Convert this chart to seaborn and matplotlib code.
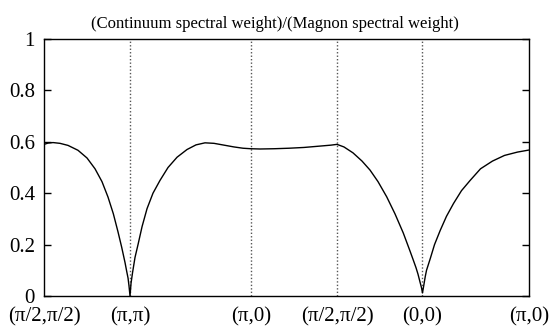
import matplotlib
matplotlib.use("Agg")
import matplotlib.pyplot as plt
import seaborn as sns
import pandas as pd

# Path through the Brillouin zone (distance along the cut, segment (pi/2,pi/2)-(pi,pi) = 1)
tick_pos = [0.0, 1.0, 2.407, 3.407, 4.401, 5.64]
tick_labels = ["(\u03c0/2,\u03c0/2)", "(\u03c0,\u03c0)", "(\u03c0,0)",
               "(\u03c0/2,\u03c0/2)", "(0,0)", "(\u03c0,0)"]

# Ratio of continuum to magnon spectral weight along the path
k_path = [
    # (pi/2,pi/2) -> (pi,pi)
    0.000, 0.047, 0.105, 0.186, 0.279, 0.395, 0.500, 0.593, 0.674, 0.744,
    0.806, 0.860, 0.903, 0.942, 0.962, 0.977, 0.988, 1.000,
    # (pi,pi) -> (pi,0)
    1.012, 1.029, 1.058, 1.093, 1.140, 1.198, 1.267, 1.349, 1.442, 1.547,
    1.663, 1.767, 1.872, 1.977, 2.093, 2.209, 2.314, 2.407,
    # (pi,0) -> (pi/2,pi/2)
    2.512, 2.674, 2.849, 3.023, 3.198, 3.337, 3.407,
    # (pi/2,pi/2) -> (0,0)
    3.488, 3.593, 3.698, 3.791, 3.884, 3.985, 4.081, 4.178, 4.256, 4.294,
    4.326, 4.349, 4.372, 4.390, 4.401,
    # (0,0) -> (pi,0)
    4.413, 4.433, 4.448, 4.491, 4.541, 4.607, 4.680, 4.762, 4.855, 4.956,
    5.076, 5.215, 5.355, 5.506, 5.640,
]
ratio = [
    0.590, 0.595, 0.597, 0.594, 0.586, 0.567, 0.537, 0.495, 0.445, 0.385,
    0.320, 0.250, 0.190, 0.130, 0.095, 0.070, 0.040, 0.000,
    0.050, 0.090, 0.150, 0.200, 0.270, 0.340, 0.400, 0.450, 0.500, 0.540,
    0.570, 0.588, 0.596, 0.594, 0.587, 0.580, 0.575, 0.573,
    0.572, 0.573, 0.575, 0.578, 0.583, 0.587, 0.590,
    0.580, 0.557, 0.525, 0.490, 0.445, 0.386, 0.320, 0.245, 0.175, 0.140,
    0.110, 0.085, 0.055, 0.032, 0.012,
    0.035, 0.075, 0.100, 0.145, 0.200, 0.255, 0.310, 0.360, 0.410, 0.450,
    0.495, 0.525, 0.547, 0.560, 0.568,
]

y_ticks = [0, 0.2, 0.4, 0.6, 0.8, 1]
y_tick_labels = ["0", "0.2", "0.4", "0.6", "0.8", "1"]
title = "(Continuum spectral weight)/(Magnon spectral weight)"

sns.set_theme(style="white")
plt.rcParams["font.family"] = ["Liberation Serif", "DejaVu Serif"]

df = pd.DataFrame({"k": k_path, "ratio": ratio})

fig = plt.figure(figsize=(5.51, 3.31), dpi=100)
ax = fig.add_axes([0.0799, 0.1057, 0.8802, 0.7765])

# Symmetry points marked by dotted verticals
for xp in tick_pos[1:-1]:
    ax.axvline(xp, color="#555555", linestyle=(0, (1, 1.5)), linewidth=1.0, zorder=1)

sns.lineplot(data=df, x="k", y="ratio", ax=ax, color="black", linewidth=1.0,
             estimator=None, sort=False, zorder=3)

ax.set_xlim(tick_pos[0], tick_pos[-1])
ax.set_ylim(0, 1)
ax.set_xticks(tick_pos)
ax.set_xticklabels(tick_labels)
ax.set_yticks(y_ticks)
ax.set_yticklabels(y_tick_labels)
ax.set_xlabel("")
ax.set_ylabel("")
ax.tick_params(axis="y", which="both", direction="in", length=5, width=1.0,
               left=True, right=True, labelsize=15, pad=6.5, colors="black")
ax.tick_params(axis="x", which="both", length=0, labelsize=15, pad=8,
               colors="black")
for sp in ax.spines.values():
    sp.set_visible(True)
    sp.set_color("black")
    sp.set_linewidth(1.0)

# Title centred on the whole canvas
ax.set_title(title, fontsize=12, pad=8, color="black", x=0.477)

fig.savefig("out.png", dpi=100)
